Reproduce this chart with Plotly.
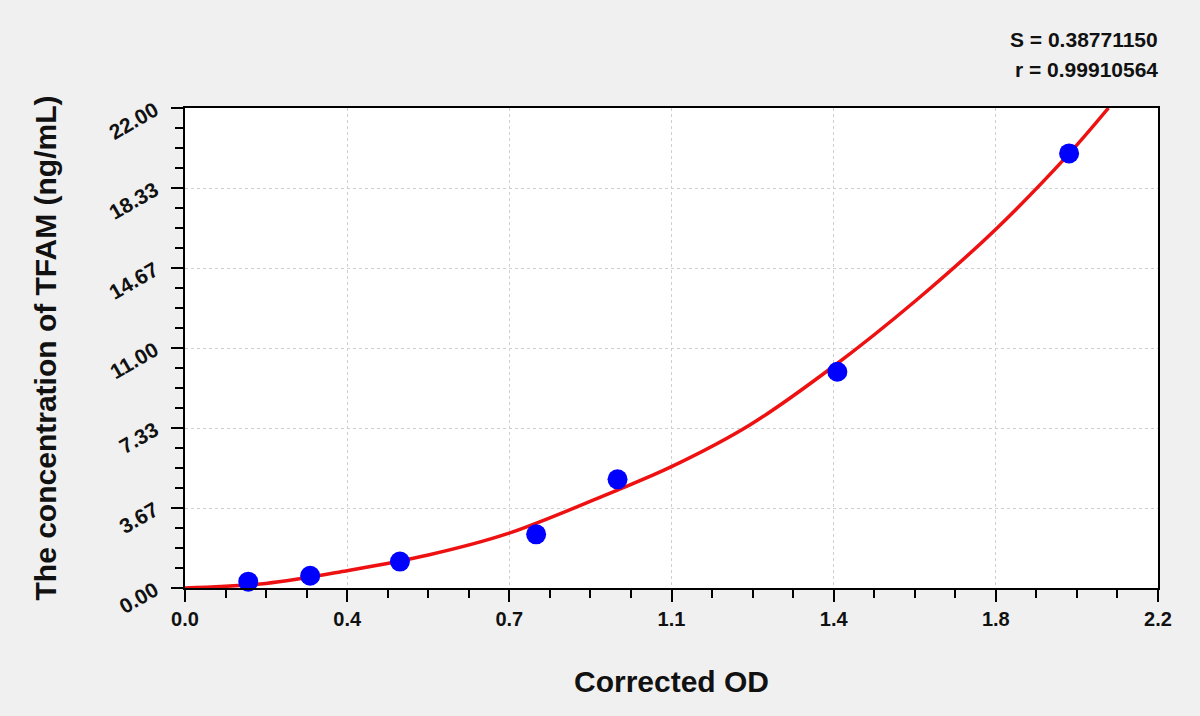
import plotly.graph_objects as go

# Standard points
od_points = [0.143, 0.283, 0.486, 0.794, 0.978, 1.475, 1.999]
conc_points = [0.29, 0.56, 1.21, 2.46, 4.98, 9.91, 19.92]

# Fitted curve, sampled by reading the picture
curve_od = [0.0, 0.183, 0.366, 0.55, 0.731, 0.968, 1.1, 1.277, 1.465, 1.654, 1.831, 1.993, 2.088]
curve_conc = [0.0, 0.21, 0.79, 1.51, 2.5, 4.41, 5.56, 7.47, 10.14, 13.2, 16.4, 19.77, 22.0]

x_tickvals = [0, 2.2 / 6, 2 * 2.2 / 6, 1.1, 4 * 2.2 / 6, 5 * 2.2 / 6, 2.2]
x_ticktext = ["0.0", "0.4", "0.7", "1.1", "1.4", "1.8", "2.2"]
y_tickvals = [0, 22 / 6, 2 * 22 / 6, 11, 4 * 22 / 6, 5 * 22 / 6, 22]
y_ticktext = ["0.00", "3.67", "7.33", "11.00", "14.67", "18.33", "22.00"]

stats_lines = ["S = 0.38771150", "r = 0.99910564"]

fig = go.Figure()
fig.add_trace(go.Scatter(
    x=curve_od, y=curve_conc, mode="lines",
    line=dict(color="#ee1111", width=3.5, shape="spline"),
    showlegend=False, hoverinfo="skip"))
fig.add_trace(go.Scatter(
    x=od_points, y=conc_points, mode="markers",
    marker=dict(color="#0000ff", size=20, line=dict(width=0)),
    showlegend=False, cliponaxis=False))

fig.update_layout(
    width=1200, height=716,
    paper_bgcolor="#f0f0f0", plot_bgcolor="white",
    margin=dict(l=185, r=42, t=108, b=128),
    font=dict(family="Liberation Sans, Arial", color="#111"),
    xaxis=dict(
        range=[0, 2.2], tickmode="array", tickvals=x_tickvals, ticktext=x_ticktext,
        ticks="outside", ticklen=12, tickwidth=2, tickcolor="black",
        showline=True, linecolor="black", linewidth=2, mirror=True,
        showgrid=True, gridcolor="#cfcfcf", griddash="dot", gridwidth=1,
        zeroline=False,
        tickfont=dict(family="Liberation Sans Narrow, Arial Narrow, Liberation Sans", size=20, color="#111", weight="bold"),
        minor=dict(tickmode="linear", tick0=0, dtick=2.2 / 24, ticks="outside",
                   ticklen=8, tickwidth=2, tickcolor="black", showgrid=False),
        title=dict(text="<b>Corrected OD</b>", standoff=42,
                   font=dict(family="Liberation Sans Narrow, Arial Narrow, Liberation Sans", size=30, color="#111")),
    ),
    yaxis=dict(
        range=[0, 22], tickmode="array", tickvals=y_tickvals, ticktext=y_ticktext,
        ticks="outside", ticklen=12, tickwidth=2, tickcolor="black",
        showline=True, linecolor="black", linewidth=2, mirror=True,
        showgrid=True, gridcolor="#cfcfcf", griddash="dot", gridwidth=1,
        zeroline=False, tickangle=-30, ticklabelstandoff=12,
        tickfont=dict(family="Liberation Sans, Arial", size=21, color="#111", weight="bold"),
        minor=dict(tickmode="linear", tick0=0, dtick=22 / 24, ticks="outside",
                   ticklen=8, tickwidth=2, tickcolor="black", showgrid=False),
        title=dict(text="<b>The concentration of TFAM (ng/mL)</b>", standoff=40,
                   font=dict(family="Liberation Sans, Arial", size=30, color="#111")),
    ),
)

for i, line in enumerate(stats_lines):
    fig.add_annotation(
        text="<b>" + line + "</b>", xref="paper", yref="paper",
        x=1.0, y=1.0, xanchor="right", yanchor="middle",
        xshift=2, yshift=69 - 30 * i, showarrow=False,
        font=dict(family="Liberation Sans, Arial", size=21, color="#111"))

fig.write_html("out.html", config={"displayModeBar": False},
               post_script="document.body.style.margin='0';document.body.style.background='#f0f0f0';")
